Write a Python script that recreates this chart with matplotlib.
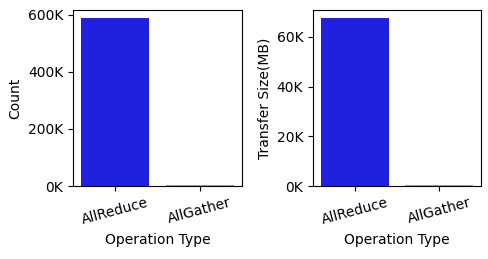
import matplotlib
matplotlib.use("Agg")
import matplotlib.pyplot as plt
from matplotlib.ticker import FuncFormatter, MultipleLocator

operations = ["AllReduce", "AllGather"]
counts = [588000, 2500]
transfer_mb = [67400, 550]
colors = ["#2020df", "#df9c20"]

fig = plt.figure(figsize=(4.89, 2.59), dpi=100)
ax1 = fig.add_axes([73/489, 1-186/259, (242-73)/489, 176/259])
ax2 = fig.add_axes([313/489, 1-186/259, (481-313)/489, 176/259])

fmt = FuncFormatter(lambda v, p: f"{v/1000:.0f}K")

for ax, vals, ylabel, step in [(ax1, counts, "Count", 200000),
                               (ax2, transfer_mb, "Transfer Size(MB)", 20000)]:
    x = list(range(len(operations)))
    ax.bar(x, vals, width=0.8, color=colors)
    ax.set_xlim(-0.5, len(operations) - 0.5)
    ax.set_ylim(0, max(vals) * 1.05)
    ax.set_xticks(x)
    ax.set_xticklabels(operations, rotation=15)
    ax.yaxis.set_major_locator(MultipleLocator(step))
    ax.yaxis.set_major_formatter(fmt)
    ax.set_xlabel("Operation Type")
    ax.set_ylabel(ylabel)

fig.savefig("out.png", dpi=100)
